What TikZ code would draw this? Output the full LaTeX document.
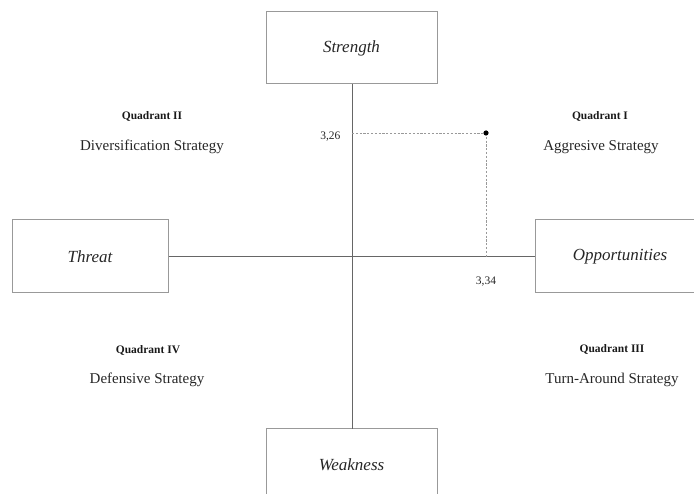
\documentclass[tikz,border=0pt]{standalone}
\usepackage{fontspec}
\setmainfont{Liberation Serif}
\begin{document}
\begin{tikzpicture}[x=1pt,y=-1pt,
  boxnode/.style={draw=gray!80,line width=1pt,rectangle,inner sep=0pt,font=\fontsize{17}{20}\selectfont\itshape,text=black!85},
  axis/.style={draw=black!60,line width=0.9pt},
  guide/.style={draw=gray!80,line width=0.75pt,dash pattern=on 2.2pt off 1.6pt},
  quadlabel/.style={font=\fontsize{11.5}{13}\selectfont\bfseries,text=black!90},
  stratlabel/.style={font=\fontsize{15}{17}\selectfont,text=black!85},
  numlabel/.style={font=\fontsize{11.5}{13}\selectfont,text=black!85}]
\useasboundingbox (0,0) rectangle (694,494);
\clip (0,0) rectangle (694,494);
% boxes
\node[boxnode,minimum width=171pt,minimum height=72pt] (strength) at (351.5,48) {Strength};
\node[boxnode,minimum width=156pt,minimum height=73pt] (threat) at (90,256.5) {Threat};
\node[boxnode,minimum width=170pt,minimum height=73pt] (opp) at (620,256.5) {Opportunities};
\node[boxnode,minimum width=171pt,minimum height=72pt] (weak) at (351.5,465) {Weakness};
% axes
\coordinate (vtop) at (352,84);
\coordinate (vbot) at (352,429);
\draw[axis] (vtop) -- (vbot);
\draw[axis] (threat.east) -- (opp.west);
% point
\coordinate (pt) at (486,133);
\coordinate (py) at (352,133);
\coordinate (px) at (486,257);
\draw[guide] (py) -- (pt);
\draw[guide] (pt) -- (px);
\fill[black] (pt) circle (2.6pt);
\node[numlabel,anchor=east] (n326) at (344,136.5) {3,26};
\node[numlabel] (n334) at (486,281.5) {3,34};
% quadrant labels
\node[quadlabel] (q2) at (152,116) {Quadrant II};
\node[stratlabel] (s2) at (152,147) {Diversification Strategy};
\node[quadlabel] (q1) at (600,116) {Quadrant I};
\node[stratlabel] (s1) at (601,147) {Aggresive Strategy};
\node[quadlabel] (q4) at (148,350) {Quadrant IV};
\node[stratlabel] (s4) at (147,380) {Defensive Strategy};
\node[quadlabel] (q3) at (612,349.5) {Quadrant III};
\node[stratlabel] (s3) at (612,380) {Turn-Around Strategy};
\end{tikzpicture}
\end{document}
